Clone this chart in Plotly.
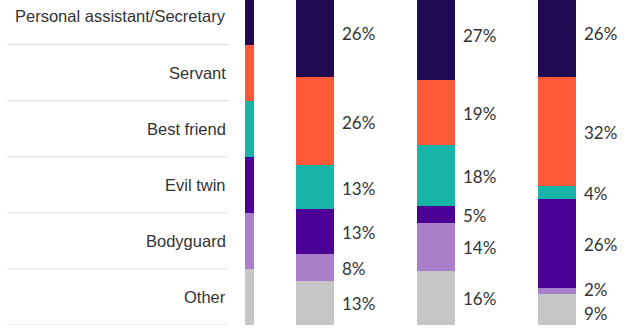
import plotly.graph_objects as go

categories = ["Personal assistant/Secretary", "Servant", "Best friend", "Evil twin", "Bodyguard", "Other"]
colors = ["#200a52", "#fe5a37", "#17b5a8", "#4d0096", "#a97fcc", "#c6c6c6"]
group_a = [26, 26, 13, 13, 8, 13]
group_b = [27, 19, 18, 5, 14, 16]
group_c = [26, 32, 4, 26, 2, 9]
series = [group_a, group_b, group_c]

# layout constants
bar_pos = [0, 1, 2]
bar_width = 0.314
strip_pos = -0.541
strip_width = 0.079
label_x = -0.719
y_max = 95.6
plot_h = 325
px_per_unit = plot_h / y_max
min_sep = 24

# legend strip: equal segments
strip_seg = sum(group_a) / len(categories)

fig = go.Figure()

order = list(range(len(categories)))[::-1]
for k in order:
    fig.add_trace(go.Bar(
        x=[strip_pos], y=[strip_seg], width=[strip_width],
        marker=dict(color=colors[k], line=dict(width=0)),
        showlegend=False, hoverinfo="skip"))
    fig.add_trace(go.Bar(
        x=bar_pos, y=[s[k] for s in series], width=[bar_width] * 3,
        marker=dict(color=colors[k], line=dict(width=0)),
        showlegend=False, name=categories[k]))

annotations = []
shapes = []
for j, k in enumerate(order):
    y0 = j * strip_seg
    annotations.append(dict(
        x=label_x, y=y0 + strip_seg / 2, xref="x", yref="y",
        text=categories[k], showarrow=False, xanchor="right", yanchor="middle",
        font=dict(family="Liberation Sans, Arial", size=16.5, color="#333333")))
for j in range(len(categories) + 1):
    shapes.append(dict(type="line", xref="paper", yref="y",
                       x0=7 / 641, x1=228 / 641, y0=j * strip_seg, y1=j * strip_seg,
                       line=dict(color="#dcdcdc", width=1), layer="below"))

# value labels with simple overlap resolution
for i, s in enumerate(series):
    cum = 0
    centers = []
    for k in order:
        v = s[k]
        centers.append((cum + v / 2, v))
        cum += v
    shifts = [0.0] * len(centers)
    for a in range(len(centers) - 1):
        gap = (centers[a + 1][0] - centers[a][0]) * px_per_unit + shifts[a + 1] - shifts[a]
        if gap < min_sep:
            d = (min_sep - gap) / 2
            shifts[a] -= d
            shifts[a + 1] += d
    for (yc, v), sh in zip(centers, shifts):
        annotations.append(dict(
            x=bar_pos[i] + bar_width / 2, y=yc, xref="x", yref="y",
            text=f"{v}%", showarrow=False, xanchor="left", yanchor="middle",
            xshift=6, yshift=-1 + sh,
            font=dict(family="Lato", size=17, color="#333333")))

fig.update_layout(
    barmode="stack",
    width=641, height=329,
    margin=dict(l=0, r=0, t=0, b=4),
    paper_bgcolor="white", plot_bgcolor="white",
    xaxis=dict(range=[-2.603, 2.694], visible=False, fixedrange=True),
    yaxis=dict(range=[0, y_max], visible=False, fixedrange=True),
    annotations=annotations, shapes=shapes,
    bargap=0,
)

fig.write_html("out.html")
